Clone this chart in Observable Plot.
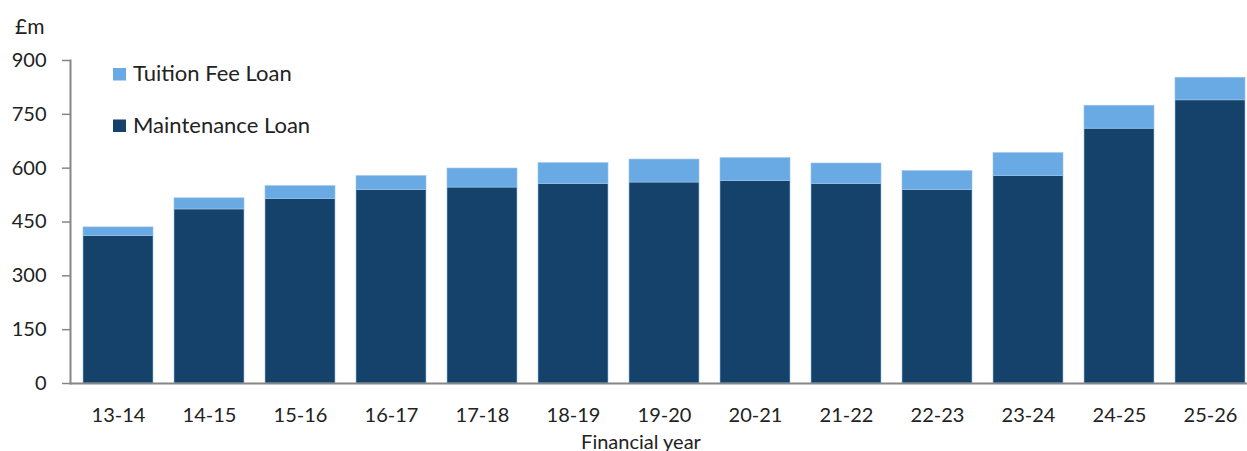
<!DOCTYPE html>
<html>
<head>
<meta charset="utf-8">
<script src="https://cdn.jsdelivr.net/npm/d3@7"></script>
<script src="https://cdn.jsdelivr.net/npm/@observablehq/plot@0.6"></script>
<style>
  html, body { margin: 0; padding: 0; background: #fff; }
  #chart { width: 1247px; height: 451px; }
</style>
</head>
<body>
<div id="chart"></div>
<script>
const years = ["13-14","14-15","15-16","16-17","17-18","18-19","19-20","20-21","21-22","22-23","23-24","24-25","25-26"];
const maintenance = [411, 485, 514, 539, 546, 556, 560, 564, 556, 539, 578, 710, 789];
const tuition = [24, 31, 36, 39, 53, 58, 64, 64, 57, 53, 64, 64, 63];
const yTicks = [0, 150, 300, 450, 600, 750, 900];
const seriesNames = ["Maintenance Loan", "Tuition Fee Loan"];
const legendOrder = ["Tuition Fee Loan", "Maintenance Loan"];
const colors = ["#14426B", "#6AAAE4"];
const unitLabel = "£m";
const xTitle = "Financial year";

const data = [];
years.forEach((y, i) => {
  data.push({year: y, series: seriesNames[0], value: maintenance[i]});
  data.push({year: y, series: seriesNames[1], value: tuition[i]});
});

const font = "Lato, 'Open Sans', sans-serif";
const chart = Plot.plot({
  width: 1247,
  height: 451,
  marginTop: 60,
  marginBottom: 68,
  marginLeft: 70,
  marginRight: 0,
  style: {fontFamily: font, fontSize: "20px", color: "#222", background: "#fff", overflow: "visible"},
  x: {domain: years, range: [80, 1247], paddingInner: 0.234, paddingOuter: 0, label: null},
  y: {domain: [0, 900], label: null},
  color: {domain: seriesNames, range: colors},
  marks: [
    Plot.barY(data, Plot.stackY({x: "year", y: "value", fill: "series", order: seriesNames, stroke: "#9cc3e8", strokeWidth: 0.6})),
    Plot.axisY({ticks: yTicks, tickSize: 8, tickPadding: 16, stroke: "#868686", strokeWidth: 1.5, fill: "#222", label: null, tickFormat: d3.format("d")}),
    Plot.axisX({tickSize: 0, tickPadding: 24.5, fill: "#222", label: null}),
    Plot.frame({anchor: "left", stroke: "#868686", strokeWidth: 2}),
    Plot.ruleY([0], {stroke: "#868686", strokeWidth: 2})
  ]
});
document.getElementById("chart").appendChild(chart);

// Annotations: unit label, legend, x title
const svg = d3.select(chart);
const g = svg.append("g").attr("text-anchor", "start").style("font-family", font).attr("fill", "#222");
g.append("text").attr("x", 15).attr("y", 34).style("font-size", "21px").text(unitLabel);
g.append("text").attr("x", 641).attr("y", 449).attr("text-anchor", "middle").style("font-size", "20px").text(xTitle);
legendOrder.forEach((name, i) => {
  const baseline = 81 + i * 51.5;
  g.append("rect").attr("x", 113).attr("y", baseline - 13).attr("width", 13).attr("height", 12.5)
    .attr("fill", colors[seriesNames.indexOf(name)]);
  g.append("text").attr("x", 133).attr("y", baseline).style("font-size", "22px").text(name);
});
</script>
</body>
</html>
